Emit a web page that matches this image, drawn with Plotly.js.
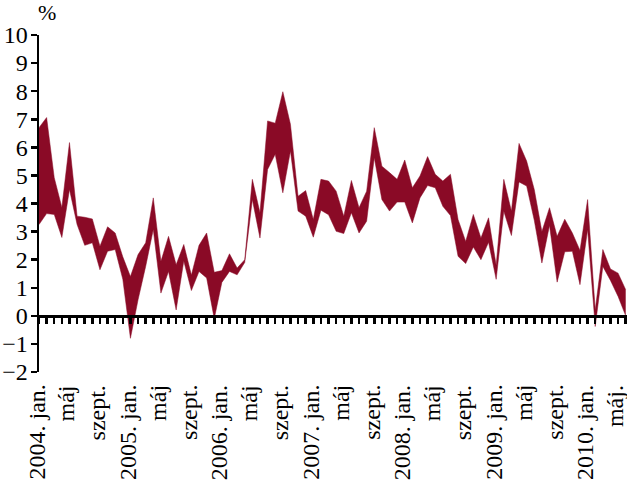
<!DOCTYPE html>
<html>
<head>
<meta charset="utf-8">
<script src="https://cdn.plot.ly/plotly-3.0.1.min.js"></script>
<style>
  html, body { margin: 0; padding: 0; background: #fff; }
  #chart { width: 627px; height: 492px; }
</style>
</head>
<body>
<div id="chart"></div>
<script>
// monthly band, 2004 jan .. 2010 jun (upper / lower edge, %)
const upper = [6.70, 7.06, 4.92, 3.86, 6.17, 3.55, 3.51, 3.45, 2.48, 3.17, 2.95, 2.10,
               1.40, 2.18, 2.60, 4.20, 1.94, 2.83, 1.82, 2.54, 1.45, 2.51, 2.95, 1.55,
               1.61, 2.21, 1.70, 2.00, 4.86, 3.67, 6.94, 6.86, 7.98, 6.82, 4.26, 4.46,
               3.43, 4.86, 4.80, 4.44, 3.55, 4.82, 3.85, 4.44, 6.70, 5.33, 5.10, 4.86,
               5.55, 4.56, 4.98, 5.67, 5.04, 4.80, 5.04, 3.43, 2.65, 3.61, 2.77, 3.49,
               1.80, 4.86, 3.73, 6.14, 5.51, 4.50, 3.00, 3.85, 2.83, 3.44, 2.95, 2.33,
               4.14, 0.21, 2.36, 1.67, 1.52, 0.93];
const lower = [3.25, 3.64, 3.61, 2.79, 4.50, 3.25, 2.51, 2.60, 1.64, 2.30, 2.36, 1.30,
               -0.80, 0.57, 1.76, 3.07, 0.81, 1.58, 0.21, 1.95, 0.90, 1.58, 1.35, -0.10,
               1.19, 1.58, 1.46, 1.90, 4.14, 2.77, 5.21, 5.75, 4.38, 5.87, 3.73, 3.55,
               2.80, 3.76, 3.60, 3.01, 2.93, 3.67, 2.95, 3.37, 5.63, 4.14, 3.73, 4.05,
               4.05, 3.31, 4.20, 4.64, 4.56, 3.90, 3.57, 2.12, 1.86, 2.45, 2.00, 2.62,
               1.30, 3.72, 2.86, 4.77, 4.62, 3.40, 1.88, 3.22, 1.20, 2.28, 2.30, 1.11,
               3.07, -0.38, 1.76, 1.26, 0.69, 0.00];

// month labels every 4 months
const tickIdx = [0, 4, 8, 12, 16, 20, 24, 28, 32, 36, 40, 44, 48, 52, 56, 60, 64, 68, 72, 76];
const tickLabels = ["2004. jan.", "máj", "szept.", "2005. jan.", "máj", "szept.",
                    "2006. jan.", "máj", "szept.", "2007. jan.", "máj", "szept.",
                    "2008. jan.", "máj", "szept.", "2009. jan.", "máj", "szept.",
                    "2010. jan.", "máj."];

const months = upper.map((v, i) => i);
const bandColor = "#8a0a26";
const font = "Liberation Serif, Times New Roman, serif";

const data = [
  {
    x: months, y: lower, type: "scatter", mode: "lines",
    line: {color: bandColor, width: 0.5}, hoverinfo: "skip", showlegend: false
  },
  {
    x: months, y: upper, type: "scatter", mode: "lines",
    fill: "tonexty", fillcolor: bandColor,
    line: {color: bandColor, width: 0.5}, hoverinfo: "skip", showlegend: false
  }
];

// rotated month labels under the plot
const monthNotes = tickIdx.map((m, k) => ({
  text: tickLabels[k], xref: "x", yref: "paper", x: m, y: 0,
  xanchor: "center", yanchor: "top", textangle: -90,
  xshift: -3, yshift: -12, borderpad: 0,
  showarrow: false, font: {family: font, size: 24, color: "#000"}
}));

const layout = {
  width: 627,
  height: 492,
  margin: {l: 39, r: 0, t: 35, b: 120},
  paper_bgcolor: "#fff",
  plot_bgcolor: "#fff",
  font: {family: font, size: 24, color: "#000"},
  showlegend: false,
  xaxis: {
    range: [0, 77.17],
    anchor: "free",
    position: 1 / 6,
    showline: true, linewidth: 3, linecolor: "#000",
    ticks: "outside", ticklen: 6, tickwidth: 2.5, tickcolor: "#000",
    tick0: 0, dtick: 1,
    showticklabels: false,
    showgrid: false, zeroline: false
  },
  yaxis: {
    range: [-2, 10],
    dtick: 1,
    showline: true, linewidth: 2.5, linecolor: "#000",
    ticks: "outside", ticklen: 6, tickwidth: 2.5, tickcolor: "#000",
    ticklabelstandoff: -2,
    tickfont: {family: font, size: 24, color: "#000"},
    showgrid: false, zeroline: false
  },
  annotations: [{
    text: "%", xref: "paper", yref: "paper", x: 0, y: 1,
    xanchor: "left", yanchor: "bottom", xshift: -3, yshift: 8,
    showarrow: false, font: {family: font, size: 22, color: "#000"}
  }].concat(monthNotes)
};

Plotly.newPlot("chart", data, layout, {staticPlot: true});
</script>
</body>
</html>
